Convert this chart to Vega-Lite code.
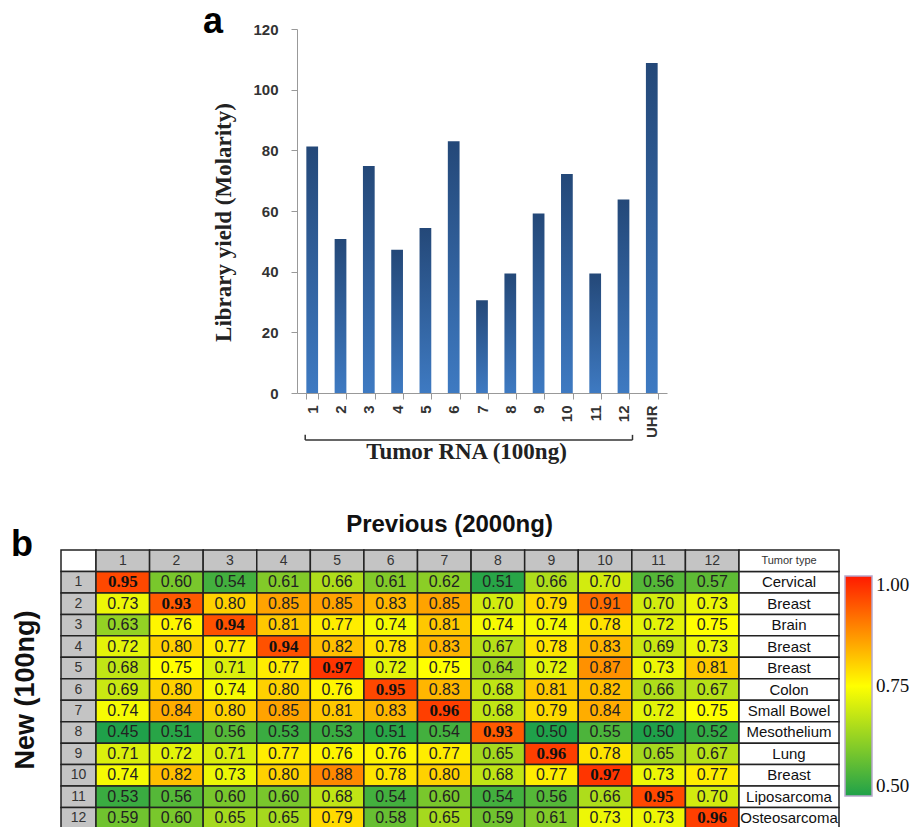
{
  "$schema": "https://vega.github.io/schema/vega-lite/v6.json",
  "background": "white",
  "padding": {"left": 11, "top": 4, "right": 0, "bottom": 0},
  "config": {"view": {"stroke": null}, "font": "Liberation Sans"},
  "datasets": {
    "yields": [
      {"sample": "1", "yield": 81.3}, {"sample": "2", "yield": 50.8}, {"sample": "3", "yield": 74.8},
      {"sample": "4", "yield": 47.2}, {"sample": "5", "yield": 54.4}, {"sample": "6", "yield": 83.0},
      {"sample": "7", "yield": 30.6}, {"sample": "8", "yield": 39.4}, {"sample": "9", "yield": 59.2},
      {"sample": "10", "yield": 72.2}, {"sample": "11", "yield": 39.4}, {"sample": "12", "yield": 63.8},
      {"sample": "UHR", "yield": 108.8}
    ],
    "rows": [
      {"row": "1", "tumor": "Cervical"}, {"row": "2", "tumor": "Breast"}, {"row": "3", "tumor": "Brain"},
      {"row": "4", "tumor": "Breast"}, {"row": "5", "tumor": "Breast"}, {"row": "6", "tumor": "Colon"},
      {"row": "7", "tumor": "Small Bowel"}, {"row": "8", "tumor": "Mesothelium"}, {"row": "9", "tumor": "Lung"},
      {"row": "10", "tumor": "Breast"}, {"row": "11", "tumor": "Liposarcoma"}, {"row": "12", "tumor": "Osteosarcoma"}
    ],
    "cols": [
      {"col": "1"}, {"col": "2"}, {"col": "3"}, {"col": "4"}, {"col": "5"}, {"col": "6"},
      {"col": "7"}, {"col": "8"}, {"col": "9"}, {"col": "10"}, {"col": "11"}, {"col": "12"}
    ],
    "cells": [
      {"row": "1", "col": "1", "r": 0.95}, {"row": "1", "col": "2", "r": 0.60}, {"row": "1", "col": "3", "r": 0.54}, {"row": "1", "col": "4", "r": 0.61}, {"row": "1", "col": "5", "r": 0.66}, {"row": "1", "col": "6", "r": 0.61}, {"row": "1", "col": "7", "r": 0.62}, {"row": "1", "col": "8", "r": 0.51}, {"row": "1", "col": "9", "r": 0.66}, {"row": "1", "col": "10", "r": 0.70}, {"row": "1", "col": "11", "r": 0.56}, {"row": "1", "col": "12", "r": 0.57},
      {"row": "2", "col": "1", "r": 0.73}, {"row": "2", "col": "2", "r": 0.93}, {"row": "2", "col": "3", "r": 0.80}, {"row": "2", "col": "4", "r": 0.85}, {"row": "2", "col": "5", "r": 0.85}, {"row": "2", "col": "6", "r": 0.83}, {"row": "2", "col": "7", "r": 0.85}, {"row": "2", "col": "8", "r": 0.70}, {"row": "2", "col": "9", "r": 0.79}, {"row": "2", "col": "10", "r": 0.91}, {"row": "2", "col": "11", "r": 0.70}, {"row": "2", "col": "12", "r": 0.73},
      {"row": "3", "col": "1", "r": 0.63}, {"row": "3", "col": "2", "r": 0.76}, {"row": "3", "col": "3", "r": 0.94}, {"row": "3", "col": "4", "r": 0.81}, {"row": "3", "col": "5", "r": 0.77}, {"row": "3", "col": "6", "r": 0.74}, {"row": "3", "col": "7", "r": 0.81}, {"row": "3", "col": "8", "r": 0.74}, {"row": "3", "col": "9", "r": 0.74}, {"row": "3", "col": "10", "r": 0.78}, {"row": "3", "col": "11", "r": 0.72}, {"row": "3", "col": "12", "r": 0.75},
      {"row": "4", "col": "1", "r": 0.72}, {"row": "4", "col": "2", "r": 0.80}, {"row": "4", "col": "3", "r": 0.77}, {"row": "4", "col": "4", "r": 0.94}, {"row": "4", "col": "5", "r": 0.82}, {"row": "4", "col": "6", "r": 0.78}, {"row": "4", "col": "7", "r": 0.83}, {"row": "4", "col": "8", "r": 0.67}, {"row": "4", "col": "9", "r": 0.78}, {"row": "4", "col": "10", "r": 0.83}, {"row": "4", "col": "11", "r": 0.69}, {"row": "4", "col": "12", "r": 0.73},
      {"row": "5", "col": "1", "r": 0.68}, {"row": "5", "col": "2", "r": 0.75}, {"row": "5", "col": "3", "r": 0.71}, {"row": "5", "col": "4", "r": 0.77}, {"row": "5", "col": "5", "r": 0.97}, {"row": "5", "col": "6", "r": 0.72}, {"row": "5", "col": "7", "r": 0.75}, {"row": "5", "col": "8", "r": 0.64}, {"row": "5", "col": "9", "r": 0.72}, {"row": "5", "col": "10", "r": 0.87}, {"row": "5", "col": "11", "r": 0.73}, {"row": "5", "col": "12", "r": 0.81},
      {"row": "6", "col": "1", "r": 0.69}, {"row": "6", "col": "2", "r": 0.80}, {"row": "6", "col": "3", "r": 0.74}, {"row": "6", "col": "4", "r": 0.80}, {"row": "6", "col": "5", "r": 0.76}, {"row": "6", "col": "6", "r": 0.95}, {"row": "6", "col": "7", "r": 0.83}, {"row": "6", "col": "8", "r": 0.68}, {"row": "6", "col": "9", "r": 0.81}, {"row": "6", "col": "10", "r": 0.82}, {"row": "6", "col": "11", "r": 0.66}, {"row": "6", "col": "12", "r": 0.67},
      {"row": "7", "col": "1", "r": 0.74}, {"row": "7", "col": "2", "r": 0.84}, {"row": "7", "col": "3", "r": 0.80}, {"row": "7", "col": "4", "r": 0.85}, {"row": "7", "col": "5", "r": 0.81}, {"row": "7", "col": "6", "r": 0.83}, {"row": "7", "col": "7", "r": 0.96}, {"row": "7", "col": "8", "r": 0.68}, {"row": "7", "col": "9", "r": 0.79}, {"row": "7", "col": "10", "r": 0.84}, {"row": "7", "col": "11", "r": 0.72}, {"row": "7", "col": "12", "r": 0.75},
      {"row": "8", "col": "1", "r": 0.45}, {"row": "8", "col": "2", "r": 0.51}, {"row": "8", "col": "3", "r": 0.56}, {"row": "8", "col": "4", "r": 0.53}, {"row": "8", "col": "5", "r": 0.53}, {"row": "8", "col": "6", "r": 0.51}, {"row": "8", "col": "7", "r": 0.54}, {"row": "8", "col": "8", "r": 0.93}, {"row": "8", "col": "9", "r": 0.50}, {"row": "8", "col": "10", "r": 0.55}, {"row": "8", "col": "11", "r": 0.50}, {"row": "8", "col": "12", "r": 0.52},
      {"row": "9", "col": "1", "r": 0.71}, {"row": "9", "col": "2", "r": 0.72}, {"row": "9", "col": "3", "r": 0.71}, {"row": "9", "col": "4", "r": 0.77}, {"row": "9", "col": "5", "r": 0.76}, {"row": "9", "col": "6", "r": 0.76}, {"row": "9", "col": "7", "r": 0.77}, {"row": "9", "col": "8", "r": 0.65}, {"row": "9", "col": "9", "r": 0.96}, {"row": "9", "col": "10", "r": 0.78}, {"row": "9", "col": "11", "r": 0.65}, {"row": "9", "col": "12", "r": 0.67},
      {"row": "10", "col": "1", "r": 0.74}, {"row": "10", "col": "2", "r": 0.82}, {"row": "10", "col": "3", "r": 0.73}, {"row": "10", "col": "4", "r": 0.80}, {"row": "10", "col": "5", "r": 0.88}, {"row": "10", "col": "6", "r": 0.78}, {"row": "10", "col": "7", "r": 0.80}, {"row": "10", "col": "8", "r": 0.68}, {"row": "10", "col": "9", "r": 0.77}, {"row": "10", "col": "10", "r": 0.97}, {"row": "10", "col": "11", "r": 0.73}, {"row": "10", "col": "12", "r": 0.77},
      {"row": "11", "col": "1", "r": 0.53}, {"row": "11", "col": "2", "r": 0.56}, {"row": "11", "col": "3", "r": 0.60}, {"row": "11", "col": "4", "r": 0.60}, {"row": "11", "col": "5", "r": 0.68}, {"row": "11", "col": "6", "r": 0.54}, {"row": "11", "col": "7", "r": 0.60}, {"row": "11", "col": "8", "r": 0.54}, {"row": "11", "col": "9", "r": 0.56}, {"row": "11", "col": "10", "r": 0.66}, {"row": "11", "col": "11", "r": 0.95}, {"row": "11", "col": "12", "r": 0.70},
      {"row": "12", "col": "1", "r": 0.59}, {"row": "12", "col": "2", "r": 0.60}, {"row": "12", "col": "3", "r": 0.65}, {"row": "12", "col": "4", "r": 0.65}, {"row": "12", "col": "5", "r": 0.79}, {"row": "12", "col": "6", "r": 0.58}, {"row": "12", "col": "7", "r": 0.65}, {"row": "12", "col": "8", "r": 0.59}, {"row": "12", "col": "9", "r": 0.61}, {"row": "12", "col": "10", "r": 0.73}, {"row": "12", "col": "11", "r": 0.73}, {"row": "12", "col": "12", "r": 0.96}
    ]
  },
  "resolve": {"scale": {"color": "independent"}},
  "spacing": 49,
  "vconcat": [
    {
      "spacing": 0,
      "hconcat": [
        {"data": {"values": []}, "mark": "point", "width": 141, "height": 10},
        {
          "width": 370,
          "height": 364,
          "title": {"text": "a", "anchor": "start", "frame": "bounds", "fontSize": 36, "fontWeight": "bold", "color": "#000", "baseline": "alphabetic", "offset": -11, "dx": -10, "dy": 36},
          "layer": [
            {
              "data": {"name": "yields"},
              "mark": {"type": "bar", "color": {"gradient": "linear", "x1": 0, "y1": 0, "x2": 0, "y2": 1, "stops": [{"offset": 0, "color": "#244878"}, {"offset": 1, "color": "#3e7ac2"}]}},
              "encoding": {
                "x": {
                  "field": "sample", "type": "nominal", "sort": null,
                  "scale": {"domain": ["1","2","3","4","5","6","7","8","9","10","11","12","UHR"], "paddingInner": 0.585, "paddingOuter": 0.33},
                  "axis": {"title": "Tumor RNA (100ng)", "titleFont": "Liberation Serif", "titleFontSize": 23, "titleFontWeight": "bold", "titleColor": "#222", "titlePadding": 3, "titleX": 169, "labelAngle": -90, "labelFontWeight": "bold", "labelFontSize": 15, "labelColor": "#333", "labelPadding": 6, "tickBand": "extent", "tickSize": 6, "tickColor": "#999", "domainColor": "#999"}
                },
                "y": {
                  "field": "yield", "type": "quantitative",
                  "scale": {"domain": [0, 120], "nice": false},
                  "axis": {"title": "Library yield (Molarity)", "titleFont": "Liberation Serif", "titleFontSize": 23, "titleFontWeight": "bold", "titleColor": "#222", "titlePadding": 17, "titleY": 193, "values": [0, 20, 40, 60, 80, 100, 120], "grid": false, "labelFontWeight": "bold", "labelFontSize": 15, "labelColor": "#333", "labelPadding": 13, "tickSize": 6, "tickColor": "#999", "domainColor": "#999"}
                }
              }
            },
            {
              "data": {"values": [{"group": "Tumor RNA (100ng)"}]},
              "mark": {"type": "rule", "color": "#333", "strokeWidth": 1.5, "xOffset": -7, "x2Offset": 9},
              "encoding": {"x": {"datum": "1"}, "x2": {"datum": "12"}, "y": {"datum": -15.5}}
            },
            {
              "data": {"values": [{"group": "Tumor RNA (100ng)"}]},
              "mark": {"type": "rule", "color": "#333", "strokeWidth": 1.5, "xOffset": -7},
              "encoding": {"x": {"datum": "1"}, "y": {"datum": -15.5}, "y2": {"datum": -13.8}}
            },
            {
              "data": {"values": [{"group": "Tumor RNA (100ng)"}]},
              "mark": {"type": "rule", "color": "#333", "strokeWidth": 1.5, "xOffset": 9},
              "encoding": {"x": {"datum": "12"}, "y": {"datum": -15.5}, "y2": {"datum": -13.8}}
            }
          ]
        }
      ]
    },
    {
      "bounds": "flush",
      "spacing": 0,
      "hconcat": [
        {
          "width": 35,
          "height": 279,
          "title": {"text": "b", "anchor": "start", "frame": "bounds", "fontSize": 36, "fontWeight": "bold", "color": "#000", "baseline": "alphabetic", "offset": -5, "dy": 38},
          "encoding": {
            "y": {"field": "row", "type": "ordinal", "scale": {"domain": ["H","1","2","3","4","5","6","7","8","9","10","11","12"], "paddingInner": 0, "paddingOuter": 0},
                  "axis": {"labels": false, "ticks": false, "domain": false, "title": "New (100ng)", "titleFontSize": 27, "titleFontWeight": "bold", "titleColor": "#111", "titlePadding": 22}}
          },
          "layer": [
            {"data": {"values": [{"row": "H"}]}, "mark": {"type": "rect", "fill": "white", "stroke": "#222", "strokeWidth": 1.5}},
            {"data": {"name": "rows"}, "mark": {"type": "rect", "fill": "#c4c4c4", "stroke": "#222", "strokeWidth": 1.5}},
            {"data": {"name": "rows"}, "mark": {"type": "text", "fontSize": 14, "color": "#333"}, "encoding": {"text": {"field": "row"}}}
          ]
        },
        {
          "width": 643,
          "height": 279,
          "title": {"text": "Previous (2000ng)", "fontSize": 24, "fontWeight": "bold", "anchor": "middle", "offset": 12, "dx": 32, "color": "#111"},
          "encoding": {
            "x": {"field": "col", "type": "ordinal", "scale": {"domain": ["1","2","3","4","5","6","7","8","9","10","11","12"], "paddingInner": 0, "paddingOuter": 0}, "axis": null},
            "y": {"field": "row", "type": "ordinal", "scale": {"domain": ["H","1","2","3","4","5","6","7","8","9","10","11","12"], "paddingInner": 0, "paddingOuter": 0}, "axis": null}
          },
          "layer": [
            {
              "data": {"name": "cells"},
              "mark": {"type": "rect", "stroke": "#222", "strokeWidth": 1.5},
              "encoding": {
                "color": {
                  "field": "r", "type": "quantitative",
                  "scale": {"domain": [0.5, 0.75, 1.0], "range": ["#1fa14a", "#ffff00", "#ff1a00"], "clamp": true, "interpolate": "rgb"},
                  "legend": {"orient": "right", "offset": 5, "values": [0.5, 0.75, 1.0], "format": ".2f", "title": " ", "titleFontSize": 1, "titlePadding": 25, "direction": "vertical", "gradientLength": 220, "gradientThickness": 27, "gradientStrokeColor": "#b8a8cc", "gradientStrokeWidth": 1.5, "labelFont": "Liberation Serif", "labelFontSize": 19, "labelColor": "#111", "labelOffset": 4}
                }
              }
            },
            {
              "data": {"name": "cells"},
              "transform": [{"filter": "datum.row != datum.col"}],
              "mark": {"type": "text", "fontSize": 16, "color": "#222"},
              "encoding": {"text": {"field": "r", "type": "quantitative", "format": ".2f"}}
            },
            {
              "data": {"name": "cells"},
              "transform": [{"filter": "datum.row == datum.col"}],
              "mark": {"type": "text", "fontSize": 17, "font": "Liberation Serif", "fontWeight": "bold", "color": "#111"},
              "encoding": {"text": {"field": "r", "type": "quantitative", "format": ".2f"}}
            },
            {
              "data": {"name": "cols"},
              "mark": {"type": "rect", "fill": "#c4c4c4", "stroke": "#222", "strokeWidth": 1.5},
              "encoding": {"y": {"datum": "H"}}
            },
            {
              "data": {"name": "cols"},
              "mark": {"type": "text", "fontSize": 14, "color": "#333"},
              "encoding": {"y": {"datum": "H"}, "text": {"field": "col"}}
            }
          ]
        },
        {
          "width": 100,
          "height": 279,
          "encoding": {
            "y": {"field": "row", "type": "ordinal", "scale": {"domain": ["H","1","2","3","4","5","6","7","8","9","10","11","12"], "paddingInner": 0, "paddingOuter": 0}, "axis": null}
          },
          "layer": [
            {"data": {"name": "rows"}, "mark": {"type": "rect", "fill": "white", "stroke": "#222", "strokeWidth": 1.5}},
            {"data": {"values": [{"header": "Tumor type"}]}, "mark": {"type": "rect", "fill": "white", "stroke": "#222", "strokeWidth": 1.5}, "encoding": {"y": {"datum": "H"}}},
            {"data": {"name": "rows"}, "mark": {"type": "text", "fontSize": 15, "color": "#111"}, "encoding": {"text": {"field": "tumor"}}},
            {"data": {"values": [{"header": "Tumor type"}]}, "mark": {"type": "text", "fontSize": 11, "color": "#333"}, "encoding": {"y": {"datum": "H"}, "text": {"field": "header"}}}
          ]
        }
      ]
    }
  ]
}
